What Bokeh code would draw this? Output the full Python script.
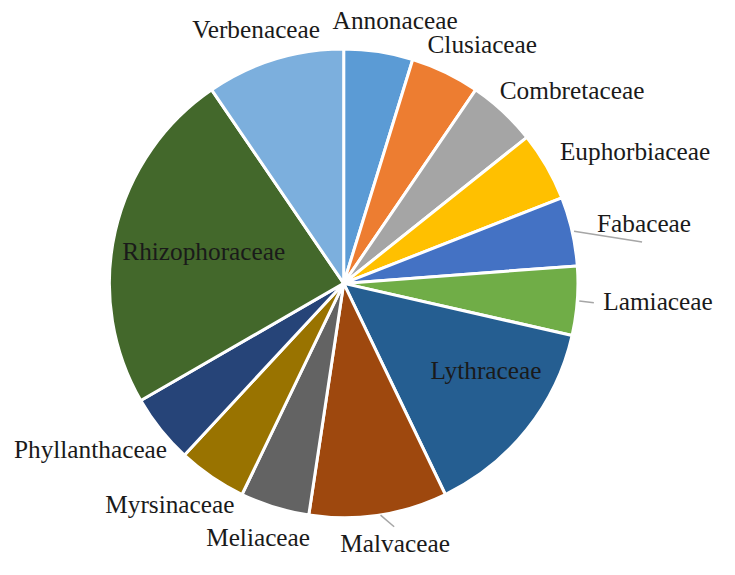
import math
from bokeh.plotting import figure
from bokeh.models import ColumnDataSource, Range1d
from bokeh.core.properties import value
from bokeh.embed import file_html
from bokeh.resources import INLINE

# ---- data ----
families = ["Annonaceae", "Clusiaceae", "Combretaceae", "Euphorbiaceae", "Fabaceae",
            "Lamiaceae", "Lythraceae", "Malvaceae", "Meliaceae", "Myrsinaceae",
            "Phyllanthaceae", "Rhizophoraceae", "Verbenaceae"]
counts = [1, 1, 1, 1, 1, 1, 3, 2, 1, 1, 1, 5, 2]
colors = ["#5B9BD5", "#ED7D31", "#A5A5A5", "#FFC000", "#4472C4", "#70AD47",
          "#255E91", "#9E480E", "#636363", "#997300", "#264478", "#43682B", "#7CAFDD"]

# label offsets (px, x right / y down) from the outer-edge midpoint of each slice
label_dx = [17, 38, 71, 91, 74, 83, -42, 17, -17, -43, -72, 91, -19]
label_dy = [-33, -29, -22, -16, -8, 0, -61, 29, 31, 28, 20, 20, -31]
# leader lines (family, end offset from edge midpoint, px)
leader_fam = ["Fabaceae", "Lamiaceae", "Malvaceae"]
leader_dx = [72, 17, 16]
leader_dy = [11, 2, 12]

W, H = 719, 559
REF_W, REF_H = 735, 575
S = H / REF_H                      # uniform scale so the layout fits
CX, CY_SCREEN, R = 353, 291, 241
CY = REF_H - CY_SCREEN

total = sum(counts)
starts, ends, mids = [], [], []
cum = 0
for c in counts:
    a0 = cum / total * 2 * math.pi
    a1 = (cum + c) / total * 2 * math.pi
    starts.append(math.pi / 2 - a0)
    ends.append(math.pi / 2 - a1)
    mids.append((a0 + a1) / 2)
    cum += c

p = figure(width=W, height=H, output_backend="svg", toolbar_location=None,
           x_range=Range1d(0, W / S), y_range=Range1d(0, REF_H),
           x_axis_type=None, y_axis_type=None, min_border=0,
           background_fill_color="white", border_fill_color="white")
p.outline_line_color = None
p.grid.visible = False

src = ColumnDataSource(dict(x=[CX] * len(counts), y=[CY] * len(counts),
                            start=starts, end=ends, color=colors, fam=families))
p.wedge(x="x", y="y", radius=R, start_angle="start", end_angle="end",
        direction="clock", fill_color="color", line_color="white", line_width=3,
        source=src)

ex = [CX + R * math.sin(m) for m in mids]
ey = [CY + R * math.cos(m) for m in mids]

lx = [ex[i] + label_dx[i] for i in range(len(families))]
ly = [ey[i] - label_dy[i] for i in range(len(families))]

# leader lines
x0s, y0s, x1s, y1s = [], [], [], []
for f, dx, dy in zip(leader_fam, leader_dx, leader_dy):
    i = families.index(f)
    x0s.append(ex[i] + 2)
    y0s.append(ey[i])
    x1s.append(ex[i] + dx)
    y1s.append(ey[i] - dy)
p.segment(x0=x0s, y0=y0s, x1=x1s, y1=y1s, line_color="#A6A6A6", line_width=1.5)

p.text(x=lx, y=ly, text=families, text_font=value("Liberation Serif"),
       text_font_size="25.3px", text_color="#1a1a1a",
       text_align="center", text_baseline="middle")

open("out.html", "w").write(file_html(p, INLINE))
